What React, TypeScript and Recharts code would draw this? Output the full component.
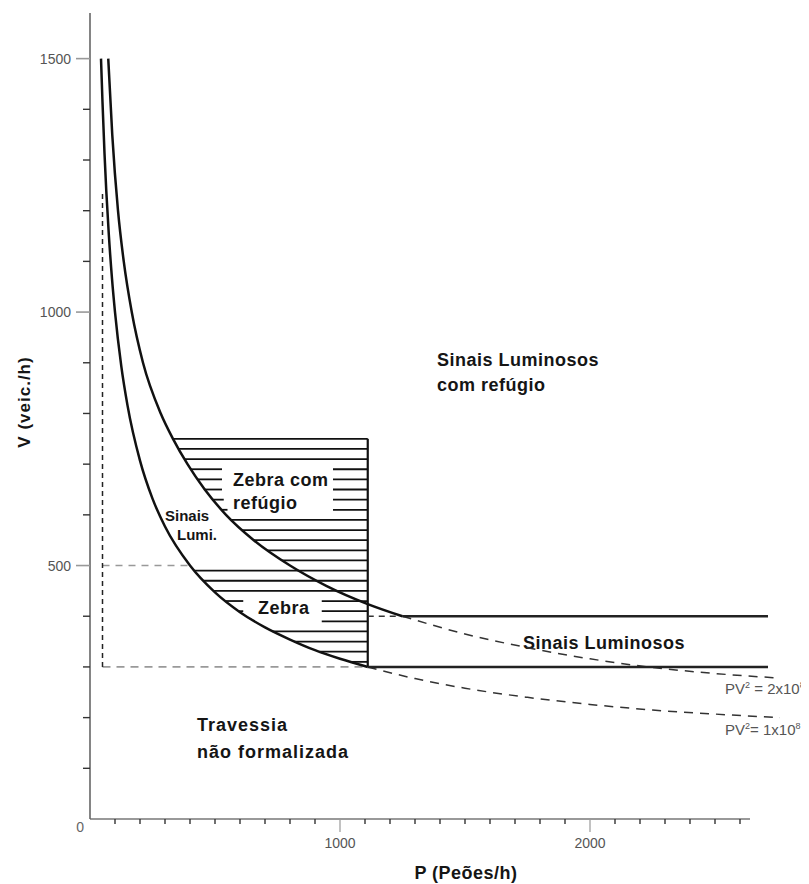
import React from 'react';
import { LineChart, Line, XAxis, YAxis, ReferenceLine } from 'recharts';

// ---- axes ----
const X_MAX = 2800;
const Y_MAX = 1590;
const xTicks = [100, 200, 300, 400, 500, 600, 700, 800, 900, 1000, 1100, 1200, 1300, 1400, 1500, 1600, 1700, 1800, 1900, 2000, 2100, 2200, 2300, 2400, 2500, 2600];
const xLabelTicks = [1000, 2000];
const yTicks = [0, 100, 200, 300, 400, 500, 600, 700, 800, 900, 1000, 1100, 1200, 1300, 1400, 1500];
const yLabelTicks = [500, 1000, 1500];
const X_AXIS_END = 2640;

// ---- curve PV^2 = 2x10^8 (solid part) ----
const upperP = [73, 89, 112, 135, 167, 212, 283, 332, 390, 459, 544, 655, 800, 945, 1111, 1250];
const upperV = [1500, 1350, 1200, 1100, 1000, 900, 800, 750, 700, 650, 600, 550, 500, 460, 424, 400];
// ---- curve PV^2 = 1x10^8 (solid part) ----
const lowerP = [44, 50, 58, 65, 75, 88, 100, 125, 150, 200, 250, 300, 400, 500, 600, 700, 800, 900, 1000, 1111];
const lowerV = [1500, 1414, 1313, 1240, 1155, 1066, 1000, 894, 816, 707, 632, 577, 500, 447, 408, 378, 354, 333, 316, 300];
// ---- dashed continuations ----
const upperDashP = [1250, 1500, 1750, 2000, 2250, 2500, 2760];
const upperDashV = [400, 365, 338, 316, 299, 287, 278];
const lowerDashP = [1111, 1300, 1500, 1750, 2000, 2250, 2500, 2760];
const lowerDashV = [300, 277, 258, 240, 226, 215, 207, 200];

// ---- boundaries ----
const upperFlatV = 400;
const lowerFlatV = 300;
const flatStartUpper = 1250;
const flatStartLower = 1111;
const flatEnd = 2712;
const rectP = 1111;
const rectTopV = 750;
const guideP = 50;
const guideTopV = 1235;
const guideMidV = 500;
const guideMidEndP = 400;

// ---- hatching ----
const hatchLevels = [750, 730, 710, 690, 670, 650, 630, 610, 590, 570, 550, 530, 510, 490, 470, 450, 430, 410, 390, 370, 350, 330, 310];
const hatchStart = [332, 355, 377, 403, 430, 459, 491, 527, 565, 606, 655, 708, 769, 416, 453, 494, 541, 595, 657, 730, 816, 918, 1041];
const gapLevels = [690, 670, 650, 630, 610, 430, 410, 390];
const gapFrom = [528, 528, 528, 535, 550, 613, 613, 657];
const gapTo = [972, 972, 972, 972, 972, 927, 927, 927];

const toPts = (ps: number[], vs: number[]) => ps.map((p, i) => ({ p, v: vs[i] }));
const upperCurve = toPts(upperP, upperV);
const lowerCurve = toPts(lowerP, lowerV);
const upperDash = toPts(upperDashP, upperDashV);
const lowerDash = toPts(lowerDashP, lowerDashV);
const upperFlat = toPts([flatStartUpper, flatEnd], [upperFlatV, upperFlatV]);
const lowerFlat = toPts([flatStartLower, flatEnd], [lowerFlatV, lowerFlatV]);
const upperFlatDash = toPts([rectP, flatStartUpper], [upperFlatV, upperFlatV]);

type Seg = { v: number; a: number; b: number };
const hatchSegs: Seg[] = [];
hatchLevels.forEach((v, i) => {
  const s = hatchStart[i];
  const g = gapLevels.indexOf(v);
  if (g < 0) {
    hatchSegs.push({ v, a: s, b: rectP });
  } else {
    if (gapFrom[g] > s) hatchSegs.push({ v, a: s, b: gapFrom[g] });
    hatchSegs.push({ v, a: gapTo[g], b: rectP });
  }
});

const FONT = '"Liberation Sans", Arial, Helvetica, sans-serif';

const XTick = (props: any) => {
  const { x, y, payload } = props;
  const major = xLabelTicks.includes(payload.value);
  return (
    <g>
      <line x1={x} x2={x} y1={y} y2={y + (major ? 13 : 5)} stroke={major ? '#999' : '#333'} strokeWidth={major ? 1.2 : 1.4} />
      {major && (
        <text x={x} y={y + 29} textAnchor="middle" fontFamily={FONT} fontSize={14} fill="#555">
          {payload.value}
        </text>
      )}
    </g>
  );
};

const YTick = (props: any) => {
  const { x, y, payload } = props;
  const v = payload.value;
  if (v === 0) {
    return (
      <text x={x - 6} y={y + 13} textAnchor="end" fontFamily={FONT} fontSize={14} fill="#666">0</text>
    );
  }
  const major = yLabelTicks.includes(v);
  return (
    <g>
      <line x1={x - (major ? 14 : 7)} x2={x} y1={y} y2={y} stroke={major ? '#999' : '#333'} strokeWidth={major ? 1.6 : 1.4} />
      {major && (
        <text x={x - 19} y={y + 5} textAnchor="end" fontFamily={FONT} fontSize={14} fill="#555">
          {v}
        </text>
      )}
    </g>
  );
};

const bold = { fontFamily: FONT, fontWeight: 700, fill: '#151515' } as const;

export default function App() {
  return (
    <LineChart
      width={801}
      height={876}
      margin={{ top: 5, right: 19, bottom: 0, left: 0 }}
      style={{ background: '#fff' }}
    >
      <XAxis
        type="number"
        dataKey="p"
        domain={[0, X_MAX]}
        ticks={xTicks}
        interval={0}
        height={65}
        axisLine={false}
        tickLine={false}
        tickSize={0}
        tickMargin={0}
        tick={<XTick />}
        allowDataOverflow
      />
      <YAxis
        type="number"
        dataKey="v"
        domain={[0, Y_MAX]}
        ticks={yTicks}
        interval={0}
        width={82}
        axisLine={{ stroke: '#666', strokeWidth: 1.6 }}
        tickLine={false}
        tickSize={0}
        tickMargin={0}
        tick={<YTick />}
        allowDataOverflow
      />
      <ReferenceLine segment={[{ x: 0, y: 0 }, { x: X_AXIS_END, y: 0 }]} stroke="#777" strokeWidth={1.6} ifOverflow="visible" />

      {/* guide dashed lines */}
      <ReferenceLine segment={[{ x: guideP, y: guideMidV }, { x: guideMidEndP, y: guideMidV }]} stroke="#999" strokeWidth={1.5} strokeDasharray="7 6" ifOverflow="visible" />
      <ReferenceLine segment={[{ x: guideP, y: lowerFlatV }, { x: rectP, y: lowerFlatV }]} stroke="#999" strokeWidth={1.8} strokeDasharray="8 6" ifOverflow="visible" />
      <ReferenceLine segment={[{ x: guideP, y: lowerFlatV }, { x: guideP, y: guideTopV }]} stroke="#222" strokeWidth={1.5} strokeDasharray="5 4" ifOverflow="visible" />

      {/* hatching */}
      {hatchSegs.map((s, i) => (
        <ReferenceLine key={'h' + i} segment={[{ x: s.a, y: s.v }, { x: s.b, y: s.v }]} stroke="#111" strokeWidth={1.8} ifOverflow="visible" />
      ))}
      <ReferenceLine segment={[{ x: rectP, y: lowerFlatV }, { x: rectP, y: rectTopV }]} stroke="#111" strokeWidth={2.2} ifOverflow="visible" />

      <Line data={upperDash} dataKey="v" type="monotone" stroke="#333" strokeWidth={1.5} strokeDasharray="9 7" dot={false} activeDot={false} isAnimationActive={false} />
      <Line data={lowerDash} dataKey="v" type="monotone" stroke="#333" strokeWidth={1.5} strokeDasharray="9 7" dot={false} activeDot={false} isAnimationActive={false} />
      <Line data={upperFlatDash} dataKey="v" type="linear" stroke="#333" strokeWidth={1.5} strokeDasharray="6 5" dot={false} activeDot={false} isAnimationActive={false} />
      <Line data={upperCurve} dataKey="v" type="monotone" stroke="#111" strokeWidth={2.5} dot={false} activeDot={false} isAnimationActive={false} />
      <Line data={lowerCurve} dataKey="v" type="monotone" stroke="#111" strokeWidth={2.5} dot={false} activeDot={false} isAnimationActive={false} />
      <Line data={upperFlat} dataKey="v" type="linear" stroke="#222" strokeWidth={2.5} dot={false} activeDot={false} isAnimationActive={false} />
      <Line data={lowerFlat} dataKey="v" type="linear" stroke="#222" strokeWidth={2.5} dot={false} activeDot={false} isAnimationActive={false} />

      {/* annotations */}
      <g>
        <text x={16} y={394} transform="rotate(-90 16 394)" textAnchor="middle" dominantBaseline="central" fontSize={17} letterSpacing={1} {...bold}>V (veic./h)</text>
        <text x={458} y={871} textAnchor="middle" fontSize={18} letterSpacing={0.5} {...bold}>P (Peões/h)</text>

        <text x={429} y={358} fontSize={18} letterSpacing={0.5} {...bold}>Sinais Luminosos</text>
        <text x={429} y={383} fontSize={18} letterSpacing={0.5} {...bold}>com refúgio</text>

        <text x={225} y={478} fontSize={18} letterSpacing={0.5} {...bold}>Zebra com</text>
        <text x={225} y={501} fontSize={18} letterSpacing={0.5} {...bold}>refúgio</text>

        <text x={157} y={513} fontSize={15} {...bold}>Sinais</text>
        <text x={169} y={532} fontSize={15} {...bold}>Lumi.</text>

        <text x={250} y={606} fontSize={18} letterSpacing={0.5} {...bold}>Zebra</text>

        <text x={515} y={641} fontSize={18} letterSpacing={0.5} {...bold}>Sinais Luminosos</text>

        <text x={189} y={723} fontSize={18} letterSpacing={1} {...bold}>Travessia</text>
        <text x={189} y={750} fontSize={18} letterSpacing={1} {...bold}>não formalizada</text>

        <text x={717} y={686} fontFamily={FONT} fontSize={15} fill="#555">
          PV<tspan fontSize={9} dy={-6}>2</tspan><tspan dy={6}> = 2x10</tspan><tspan fontSize={9} dy={-6}>8</tspan>
        </text>
        <text x={717} y={727} fontFamily={FONT} fontSize={15} fill="#555">
          PV<tspan fontSize={9} dy={-6}>2</tspan><tspan dy={6}>= 1x10</tspan><tspan fontSize={9} dy={-6}>8</tspan>
        </text>
      </g>
    </LineChart>
  );
}
